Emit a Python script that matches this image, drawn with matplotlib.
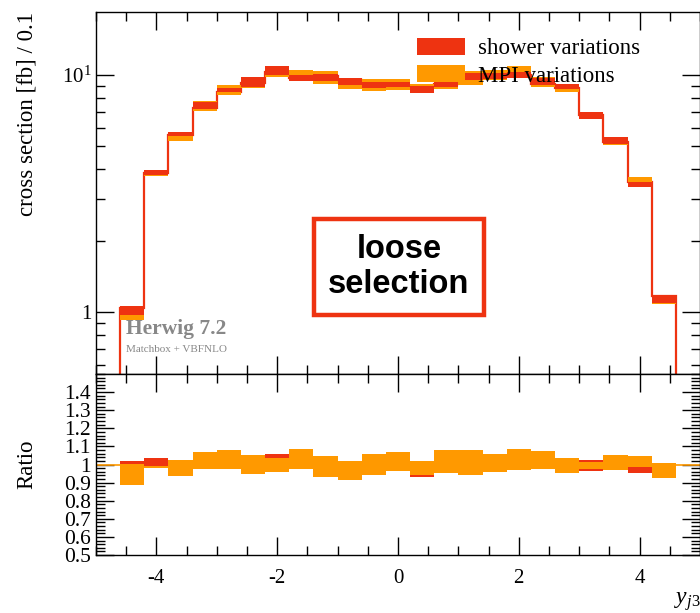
import numpy as np
import matplotlib
matplotlib.use("Agg")
import matplotlib.pyplot as plt
from matplotlib.patches import Patch
from matplotlib.ticker import MultipleLocator, FixedLocator, NullFormatter

# ---------------- data ----------------
bin_edges = np.round(np.arange(-4.6, 4.6001, 0.4), 2)
nominal = [1.04, 3.85, 5.60, 7.25, 8.45, 9.30, 10.30, 9.70, 9.90, 9.50, 9.10, 9.00,
           9.00, 9.20, 9.65, 9.90, 10.00, 9.15, 8.85, 6.80, 5.20, 3.54, 1.17]
shower_lo = [0.930, 0.981, 0.990, 0.990, 1.000, 0.957, 0.970, 0.975, 0.950, 0.960, 0.968, 0.990,
             0.931, 0.970, 0.985, 0.970, 0.970, 0.990, 0.990, 0.963, 0.983, 0.954, 0.935]
shower_hi = [1.022, 1.035, 1.025, 1.060, 1.040, 1.050, 1.056, 1.030, 1.020, 1.019, 1.030, 1.040,
             1.000, 1.030, 1.055, 1.030, 1.030, 1.060, 1.035, 1.024, 1.050, 1.000, 1.005]
mpi_lo = [0.887, 0.978, 0.937, 0.976, 0.976, 0.946, 0.957, 0.976, 0.929, 0.917, 0.942, 0.963,
          0.940, 0.952, 0.942, 0.961, 0.967, 0.976, 0.954, 0.974, 0.971, 0.987, 0.927]
mpi_hi = [1.004, 0.990, 1.026, 1.067, 1.078, 1.054, 1.037, 1.083, 1.048, 1.019, 1.056, 1.069,
          1.019, 1.082, 1.078, 1.060, 1.088, 1.073, 1.037, 1.013, 1.054, 1.047, 1.006]

legend_labels = ["shower variations", "MPI variations"]
main_yticks = [1, 10]
main_yticklabels = ["1", r"$10^{1}$"]
ratio_yticks = [0.5, 0.6, 0.7, 0.8, 0.9, 1.0, 1.1, 1.2, 1.3, 1.4]
ratio_yticklabels = ["0.5", "0.6", "0.7", "0.8", "0.9", "1", "1.1", "1.2", "1.3", "1.4"]
xticks = [-4, -2, 0, 2, 4]
xticklabels = ["-4", "-2", "0", "2", "4"]

RED = "#EE3311"
ORANGE = "#FF9900"

plt.rcParams["font.family"] = ["Liberation Serif", "DejaVu Serif"]
plt.rcParams["mathtext.fontset"] = "custom"
plt.rcParams["mathtext.rm"] = "Liberation Serif"
plt.rcParams["mathtext.it"] = "Liberation Serif:italic"
plt.rcParams["axes.unicode_minus"] = False

nom = np.array(nominal)
edges = bin_edges

W, H = 700, 613
fig = plt.figure(figsize=(W / 100, H / 100), dpi=100)

def fx(px):
    return px / W

def fy(py):
    return 1 - py / H

ax = fig.add_axes([fx(96), fy(374), fx(700) - fx(96), fy(12) - fy(374)])
axr = fig.add_axes([fx(96), fy(555), fx(700) - fx(96), fy(374) - fy(555)], sharex=ax)

# ---------------- main panel ----------------
ax.set_yscale("log")
ax.stairs(nom, edges, baseline=0, color=RED, lw=1.6, zorder=2)
ax.stairs(nom * np.array(mpi_hi), edges, baseline=nom * np.array(mpi_lo),
          fill=True, color=ORANGE, lw=0, zorder=3)
ax.stairs(nom * np.array(shower_hi), edges, baseline=nom * np.array(shower_lo),
          fill=True, color=RED, lw=0, zorder=4)
ax.set_xlim(-5, 5)
ax.set_ylim(0.5475, 18.45)
ax.set_yticks(main_yticks)
ax.set_yticklabels(main_yticklabels)
ax.yaxis.set_minor_formatter(NullFormatter())
ax.set_ylabel("cross section [fb] / 0.1", fontsize=16.5, loc="top", labelpad=17)

# ---------------- ratio panel ----------------
axr.axhline(1.0, color=ORANGE, lw=1.2, zorder=2)
axr.stairs(shower_hi, edges, baseline=shower_lo, fill=True, color=RED, lw=0, zorder=3)
axr.stairs(mpi_hi, edges, baseline=mpi_lo, fill=True, color=ORANGE, lw=0, zorder=4)
axr.set_ylim(0.5, 1.5)
axr.set_yticks(ratio_yticks)
axr.set_yticklabels(ratio_yticklabels)
axr.yaxis.set_minor_locator(MultipleLocator(0.02))
axr.set_xticks(xticks)
axr.set_xticklabels(xticklabels)
axr.set_ylabel("Ratio", fontsize=16.5, labelpad=19)

for a in (ax, axr):
    a.xaxis.set_major_locator(FixedLocator(xticks))
    a.xaxis.set_minor_locator(MultipleLocator(0.5))
    a.tick_params(which="both", direction="in", top=True, right=True, width=1.0, labelsize=15)
    a.tick_params(which="major", length=13)
    a.tick_params(which="minor", length=6.5)
    for s in a.spines.values():
        s.set_linewidth(1.0)
axr.tick_params(axis="x", pad=10)
axr.tick_params(axis="y", labelsize=15.5)
plt.setp(ax.get_xticklabels(), visible=False)

# ---------------- legend ----------------
handles = [Patch(facecolor=RED, edgecolor="none"), Patch(facecolor=ORANGE, edgecolor="none")]
leg = ax.legend(handles, legend_labels, loc="upper left", frameon=False, fontsize=16.5,
                bbox_to_anchor=(fx(417), fy(38)), bbox_transform=fig.transFigure,
                handlelength=2.1, handleheight=0.75, handletextpad=0.55, labelspacing=0.25,
                borderpad=0, borderaxespad=0)
leg.set_zorder(10)

# ---------------- annotations ----------------
fig.text(fx(399), fy(267), "loose\nselection", ha="center", va="center",
         fontsize=23.5, fontweight="bold", family=["Liberation Sans", "DejaVu Sans"],
         linespacing=1.2,
         bbox=dict(boxstyle="square,pad=0.45", facecolor="white", edgecolor=RED, linewidth=3.2))
fig.text(fx(126), fy(334), "Herwig 7.2", ha="left", va="baseline", fontsize=15.5,
         fontweight="bold", color="#888888")
fig.text(fx(126), fy(352), "Matchbox + VBFNLO", ha="left", va="baseline", fontsize=8,
         color="#888888")
fig.text(fx(674), fy(604), r"$y_{j3}$", ha="left", va="baseline", fontsize=17)

fig.savefig("out.png", dpi=100)
